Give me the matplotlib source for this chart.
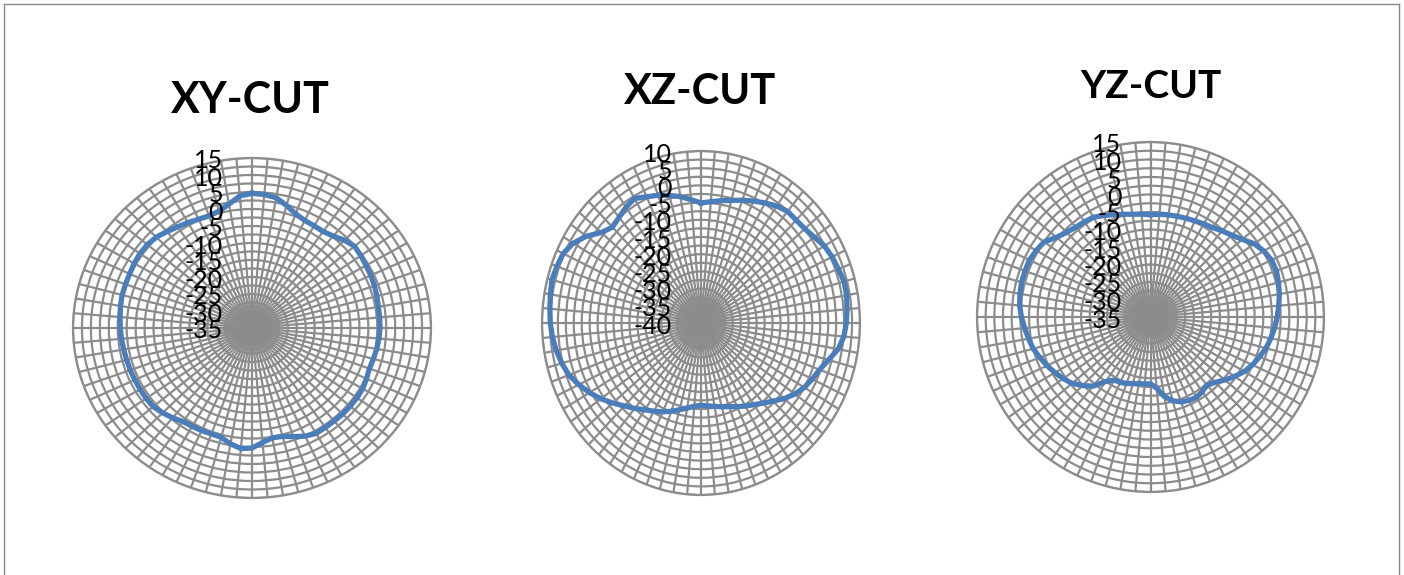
import numpy as np
import matplotlib.pyplot as plt
import matplotlib.transforms as mtransforms
from matplotlib.lines import Line2D

# angles in degrees, clockwise from top, one value every 5 degrees
angles = np.arange(0, 360, 5)

xy_cut = [4.6, 4.4, 3.9, 2.3, 0.7, -0.1, -0.3, -0.35, 0.3, 1.5, 2.4, 2.1,
          1.8, 1.6, 1.4, 1.1, 0.85, 0.8, 0.75, 0.6, 0.4, 0.1, -0.1, 0.3,
          0.7, 0.8, 0.8, 0.8, 0.7, 0.7, 0.8, 0.1, -1.0, -2.0, -2.2, -1.2,
          0.3, 0.6, -0.4, -1.7, -1.85, -1.7, -1.6, -1.4, -0.5, 0.3, 1.0, 1.1,
          1.1, 1.1, 1.2, 1.25, 1.4, 1.6, 1.8, 2.0, 2.3, 2.55, 2.6, 2.7,
          3.0, 3.2, 3.15, 2.8, 2.0, 1.3, 0.8, 0.3, 0.1, 0.6, 2.0, 4.0]

xz_cut = [-5.1, -4.6, -3.9, -3.1, -2.0, -0.9, 0.3, 1.5, 2.35, 2.3, 2.6, 3.5,
          4.8, 5.5, 5.95, 6.55, 6.5, 6.1, 5.7, 5.1, 3.8, 1.5, -0.3, -1.4,
          -2.5, -4.0, -5.8, -7.9, -9.6, -11.0, -12.1, -13.2, -14.1, -14.8, -15.4, -15.8,
          -16.1, -15.7, -14.9, -13.9, -12.7, -11.5, -10.4, -9.2, -7.6, -5.9, -3.8, -1.6,
          0.5, 2.4, 4.2, 5.3, 6.2, 6.9, 7.4, 7.7, 8.1, 8.55, 8.2, 7.8,
          6.4, 4.0, 0.9, -0.6, 0.1, 1.1, 1.8, 0.5, -0.5, -1.6, -2.7, -4.0]

yz_cut = [-5.75, -5.55, -5.4, -5.2, -5.0, -4.7, -4.3, -3.8, -2.9, -1.9, -0.5, 1.5,
          2.7, 3.5, 3.6, 3.2, 2.7, 2.1, 1.5, 0.9, 0.2, -0.55, -1.6, -2.6,
          -3.8, -5.4, -7.0, -8.6, -9.6, -9.0, -8.5, -8.7, -9.2, -10.2, -11.9, -14.6,
          -15.9, -15.8, -15.7, -15.3, -14.8, -14.35, -14.2, -12.5, -9.2, -7.3, -5.5, -4.3,
          -3.2, -2.1, -1.1, 0.0, 0.7, 1.4, 2.2, 2.85, 3.2, 3.45, 3.5, 3.5,
          3.0, 2.4, 0.4, -0.8, -1.5, -1.8, -2.1, -3.0, -3.9, -4.6, -5.2, -5.5]

titles = ["XY-CUT", "XZ-CUT", "YZ-CUT"]
series = [xy_cut, xz_cut, yz_cut]
r_limits = [(-35, 15), (-40, 10), (-35, 15)]

W, H = 1404, 575
fig = plt.figure(figsize=(W / 100, H / 100), dpi=100)

# axes boxes in pixels: left, top, right, bottom
boxes = [(73, 158, 431, 498), (542, 151, 860, 495), (977, 142, 1324, 492)]
title_pos = [(250, 100), (700, 92), (1151, 87)]
title_size = [31, 30, 28]

grid_col = "#8c8c8c"
line_col = "#4a7ebb"

for box, title, vals, (rmin, rmax), tpos, tsize in zip(
        boxes, titles, series, r_limits, title_pos, title_size):
    l, t, r, b = box
    ax = fig.add_axes([l / W, 1 - b / H, (r - l) / W, (b - t) / H], projection="polar")
    ax.set_aspect("auto")
    ax.set_theta_zero_location("N")
    ax.set_theta_direction(-1)
    ax.set_ylim(rmin, rmax)

    ax.set_xticks(np.deg2rad(angles))
    ax.set_xticklabels([])
    ax.set_yticks(np.arange(rmin, rmax + 0.1, 2.5))
    ax.set_yticklabels([])
    ax.tick_params(length=0)
    ax.grid(True, color=grid_col, linewidth=1.6)
    ax.spines["polar"].set_color(grid_col)
    ax.spines["polar"].set_linewidth(1.6)

    th = np.deg2rad(np.append(angles, angles[0]))
    vv = np.append(vals, vals[0])
    ax.plot(th, vv, color=line_col, linewidth=3.8, solid_joinstyle="round", zorder=5)

    # radial labels, right aligned left of the vertical spoke
    off = mtransforms.ScaledTranslation(-0.29, -0.03, fig.dpi_scale_trans)
    for v in np.arange(rmax, rmin - 0.1, -5):
        ax.text(0, v, f"{int(v)}", transform=ax.transData + off, ha="right", va="center",
                fontsize=18, family="Lato", color="black", zorder=6, clip_on=False)

    fig.text(tpos[0] / W, 1 - tpos[1] / H, title, ha="center", va="center",
             fontsize=tsize, fontweight="bold", family="Lato")

# chart frame
fc = "#888888"
fig.add_artist(Line2D([4 / W, 1399 / W], [1 - 4 / H, 1 - 4 / H], color=fc, lw=1))
fig.add_artist(Line2D([4 / W, 4 / W], [0, 1 - 4 / H], color=fc, lw=1))
fig.add_artist(Line2D([1399 / W, 1399 / W], [0, 1 - 4 / H], color=fc, lw=1))

fig.savefig("out.png", dpi=100)
